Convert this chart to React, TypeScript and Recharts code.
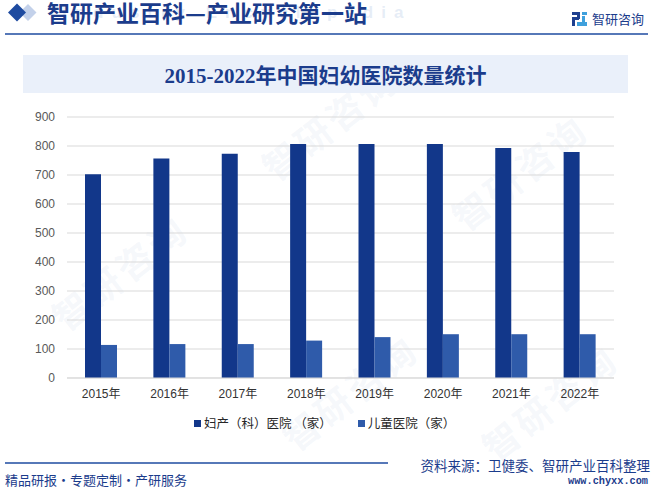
import React from 'react';
import { BarChart, Bar, XAxis, YAxis, CartesianGrid } from 'recharts';

const years = ['2015年', '2016年', '2017年', '2018年', '2019年', '2020年', '2021年', '2022年'];
const maternityHospitals = [703, 757, 773, 807, 807, 807, 793, 779];
const childrenHospitals = [114, 117, 117, 129, 141, 151, 151, 151];
const yTicks = [0, 100, 200, 300, 400, 500, 600, 700, 800, 900];

const seriesNames = ['妇产（科）医院 （家）', '儿童医院（家）'];
const seriesColors = ['#12378A', '#2F5BAA'];

const titleText = '2015-2022年中国妇幼医院数量统计';
const headerText = '智研产业百科—产业研究第一站';
const sourceText = '资料来源：卫健委、智研产业百科整理';
const footerLeftText = '精品研报・专题定制・产研服务';
const urlText = 'www.chyxx.com';
const logoText = '智研咨询';

const data = years.map((y, i) => ({
  year: y,
  a: maternityHospitals[i],
  b: childrenHospitals[i],
}));

const navy = '#1B3C8C';
const lineBlue = '#1E4BA0';
const cjk = "'Noto Sans CJK SC', 'Liberation Sans', sans-serif";

const watermarks = [
  { x: 40, y: 300, r: -38 },
  { x: 250, y: 150, r: -38 },
  { x: 440, y: 200, r: -38 },
  { x: 270, y: 420, r: -38 },
  { x: 470, y: 430, r: -38 },
];

export default function App() {
  return (
    <div
      style={{
        position: 'absolute',
        left: 0,
        top: 0,
        width: 652,
        height: 489,
        background: '#ffffff',
        overflow: 'hidden',
        fontFamily: cjk,
      }}
    >
      {/* faint watermarks */}
      {watermarks.map((w, i) => (
        <div
          key={i}
          style={{
            position: 'absolute',
            left: w.x,
            top: w.y,
            transform: `rotate(${w.r}deg)`,
            transformOrigin: 'left top',
            fontSize: 36,
            fontWeight: 700,
            color: 'rgba(190,205,228,0.15)',
            whiteSpace: 'nowrap',
            letterSpacing: 4,
          }}
        >
          {logoText}
        </div>
      ))}

      {/* header */}
      <svg style={{ position: 'absolute', left: 0, top: 0 }} width={652} height={40}>
        <polygon points="28,4 36.5,12.5 28,21 19.5,12.5" fill="#C3D1EA" />
        <polygon points="17,3.5 26,12.5 17,21.5 8,12.5" fill={lineBlue} />
        <line x1={5} y1={34} x2={648} y2={34} stroke={lineBlue} strokeWidth={1.5} />
        {/* logo icon */}
        <rect x={572} y={12} width={8} height={3} fill="#1E3F8F" />
        <rect x={577} y={12} width={3} height={7} fill="#1E3F8F" />
        <rect x={572} y={17} width={7} height={3} fill="#1E3F8F" />
        <rect x={572} y={17} width={3} height={9} fill="#1E3F8F" />
        <rect x={582} y={12} width={5} height={3} fill="#3FA0DC" />
        <rect x={582} y={16} width={3} height={6} fill="#3FA0DC" />
        <rect x={577} y={22} width={10} height={4} fill="#3FA0DC" />
      </svg>
      <div
        style={{
          position: 'absolute',
          left: 62,
          top: 3,
          fontSize: 17,
          fontWeight: 700,
          letterSpacing: 8,
          color: 'rgba(200,214,236,0.45)',
          fontFamily: "'Liberation Sans', sans-serif",
          whiteSpace: 'nowrap',
          lineHeight: '20px',
        }}
      >
        Industry Encyclopedia
      </div>
      <div
        style={{
          position: 'absolute',
          left: 47,
          top: -1,
          fontSize: 23,
          fontWeight: 700,
          color: navy,
          whiteSpace: 'nowrap',
          lineHeight: '27px',
        }}
      >
        {headerText}
      </div>
      <div
        style={{
          position: 'absolute',
          left: 592,
          top: 9,
          fontSize: 13,
          color: navy,
          whiteSpace: 'nowrap',
          lineHeight: '19px',
        }}
      >
        {logoText}
      </div>

      {/* title box */}
      <div
        style={{
          position: 'absolute',
          left: 23,
          top: 55,
          width: 605,
          height: 38,
          background: '#EAF0FA',
          display: 'flex',
          alignItems: 'center',
          justifyContent: 'center',
          fontSize: 21,
          fontWeight: 600,
          color: navy,
          fontFamily: "'Liberation Serif', 'Noto Sans CJK SC', serif",
          whiteSpace: 'nowrap',
        }}
      >
        {titleText}
      </div>

      {/* chart */}
      <div style={{ position: 'absolute', left: 0, top: 0 }}>
        <BarChart
          width={652}
          height={489}
          data={data}
          margin={{ top: 117, right: 38, left: 7, bottom: 81 }}
          barSize={16}
          barGap={0}
        >
          <CartesianGrid vertical={false} stroke="#D9D9D9" />
          <XAxis
            dataKey="year"
            height={30}
            axisLine={{ stroke: '#D9D9D9' }}
            tickLine={false}
            tickMargin={5}
            tick={{ fontSize: 12, fill: '#333333', fontFamily: "'Liberation Sans', 'Noto Sans CJK SC', sans-serif" }}
            interval={0}
          />
          <YAxis
            width={60}
            domain={[0, 900]}
            ticks={yTicks}
            axisLine={false}
            tickLine={false}
            tickMargin={6}
            tick={{ fontSize: 12, fill: '#595959', fontFamily: "'Liberation Sans', sans-serif" }}
          />
          <Bar dataKey="a" name={seriesNames[0]} fill={seriesColors[0]} isAnimationActive={false} />
          <Bar dataKey="b" name={seriesNames[1]} fill={seriesColors[1]} isAnimationActive={false} />
        </BarChart>
      </div>

      {/* legend */}
      <div
        style={{
          position: 'absolute',
          left: 194,
          top: 414,
          display: 'flex',
          alignItems: 'center',
          gap: 26,
          fontSize: 12.5,
          color: '#262626',
          whiteSpace: 'nowrap',
          lineHeight: '18px',
        }}
      >
        {seriesNames.map((n, i) => (
          <div key={n} style={{ display: 'flex', alignItems: 'center' }}>
            <span
              style={{
                display: 'inline-block',
                width: 7,
                height: 7,
                background: seriesColors[i],
                marginRight: 3,
              }}
            />
            <span>{n}</span>
          </div>
        ))}
      </div>

      {/* footer */}
      <svg style={{ position: 'absolute', left: 0, top: 455 }} width={652} height={20}>
        <line x1={5} y1={8} x2={388} y2={8} stroke={lineBlue} strokeWidth={1.5} />
      </svg>
      <div
        style={{
          position: 'absolute',
          left: 5,
          top: 470,
          fontSize: 13,
          color: navy,
          whiteSpace: 'nowrap',
          lineHeight: '19px',
        }}
      >
        {footerLeftText}
      </div>
      <div
        style={{
          position: 'absolute',
          right: 2,
          top: 456,
          fontSize: 13.5,
          color: navy,
          whiteSpace: 'nowrap',
          lineHeight: '19px',
        }}
      >
        {sourceText}
      </div>
      <div
        style={{
          position: 'absolute',
          right: 4,
          top: 474,
          fontSize: 10.25,
          fontWeight: 700,
          color: navy,
          fontFamily: "'Liberation Mono', monospace",
          whiteSpace: 'nowrap',
          lineHeight: '14px',
        }}
      >
        {urlText}
      </div>
    </div>
  );
}
